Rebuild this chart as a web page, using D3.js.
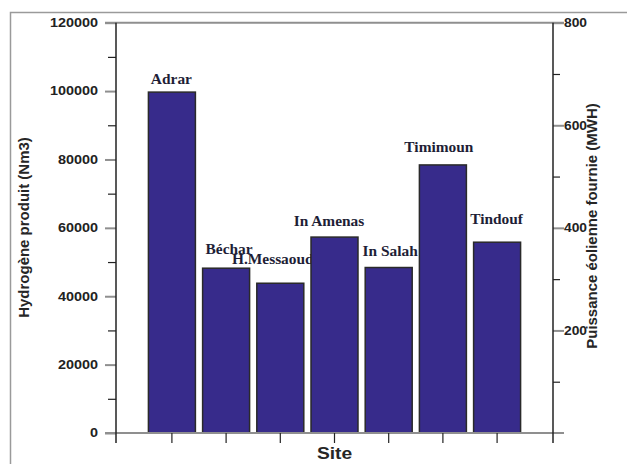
<!DOCTYPE html>
<html>
<head>
<meta charset="utf-8">
<script src="https://cdn.jsdelivr.net/npm/d3@7"></script>
<style>
  html, body { margin: 0; padding: 0; background: #fff; }
  svg { display: block; }
</style>
</head>
<body>
<script>
// Hydrogen produced per site (Nm3)
const categories = ["Adrar", "Béchar", "H.Messaoud", "In Amenas", "In Salah", "Timimoun", "Tindouf"];
const hydrogen = [99700, 48200, 43800, 57300, 48400, 78400, 55800];

// Axis ticks
const leftMajor = [0, 20000, 40000, 60000, 80000, 100000, 120000];
const leftMinor = [10000, 30000, 50000, 70000, 90000, 110000];
const rightMajor = [200, 400, 600, 800];
const rightMinor = [100, 300, 500, 700];

// Placement of each site name relative to the top centre of its bar
const labelOffsets = [[-0.5, -8.5], [3, -14], [-7.5, -19], [-5.5, -11], [1.5, -12], [-4, -13], [-0.5, -18]];

const W = 627, H = 464;
const plot = { left: 116, right: 553, top: 22.7, bottom: 433 };
const gray = "#8f8f8f", dark = "#222";

const svg = d3.select("body").append("svg").attr("width", W).attr("height", H);

// outer frame
svg.append("path")
  .attr("d", `M10.5,${H} V12.5 H${W}`)
  .attr("fill", "none").attr("stroke", "#9a9a9a").attr("stroke-width", 1.5);

const x = d3.scaleBand().domain(categories)
  .range([plot.left, plot.right]).paddingInner(0.133).paddingOuter(0.598);
const y = d3.scaleLinear().domain([0, 120000]).range([plot.bottom, plot.top]);
const y2 = d3.scaleLinear().domain([0, 800]).range([plot.bottom, plot.top]);

// stretch text horizontally along its own direction
function stretch(sel, f) {
  sel.each(function () {
    const L = this.getComputedTextLength();
    d3.select(this).attr("textLength", L * f).attr("lengthAdjust", "spacingAndGlyphs");
  });
}

// site names (drawn beneath the bars)
const labels = svg.append("g").selectAll("text").data(categories).join("text")
  .attr("x", (d, i) => x(d) + x.bandwidth() / 2 + labelOffsets[i][0])
  .attr("y", (d, i) => y(hydrogen[i]) + labelOffsets[i][1])
  .attr("text-anchor", "middle")
  .attr("font-family", "'Liberation Serif', 'Times New Roman', serif")
  .attr("font-weight", "bold").attr("font-size", 14)
  .attr("fill", "#1e1e36")
  .text(d => d);
stretch(labels, 1.1);

// bars
svg.append("g").selectAll("rect").data(categories).join("rect")
  .attr("x", d => x(d))
  .attr("y", (d, i) => y(hydrogen[i]))
  .attr("width", x.bandwidth())
  .attr("height", (d, i) => y(0) - y(hydrogen[i]))
  .attr("fill", "#372b8b")
  .attr("stroke", "#2a2a2a").attr("stroke-width", 1.5);

// top and bottom frame lines of the plot
svg.append("line").attr("x1", 105).attr("x2", 564).attr("y1", plot.top).attr("y2", plot.top)
  .attr("stroke", gray).attr("stroke-width", 2);
svg.append("line").attr("x1", 105).attr("x2", 564).attr("y1", plot.bottom).attr("y2", plot.bottom)
  .attr("stroke", gray).attr("stroke-width", 2.2);

const tickFont = g => g.selectAll("text")
  .attr("font-family", "'Liberation Sans', Arial, sans-serif")
  .attr("font-weight", "bold").attr("font-size", 12).attr("fill", dark);

// left axis
const gl = svg.append("g").attr("transform", `translate(${plot.left},0)`)
  .call(d3.axisLeft(y).tickValues(leftMajor).tickSize(11).tickPadding(7).tickFormat(d3.format("d")));
gl.select(".domain").remove();
gl.selectAll(".tick line").attr("stroke", gray).attr("stroke-width", 2);
gl.call(tickFont);
stretch(gl.selectAll("text"), 1.2);

const glm = svg.append("g").attr("transform", `translate(${plot.left},0)`)
  .call(d3.axisLeft(y).tickValues(leftMinor).tickSize(8).tickFormat(""));
glm.select(".domain").remove();
glm.selectAll(".tick line").attr("stroke", dark).attr("stroke-width", 1.2);

svg.append("line").attr("x1", plot.left).attr("x2", plot.left)
  .attr("y1", plot.top).attr("y2", plot.bottom + 10)
  .attr("stroke", dark).attr("stroke-width", 1.5);

// right axis
const gr = svg.append("g").attr("transform", `translate(${plot.right},0)`)
  .call(d3.axisRight(y2).tickValues(rightMajor).tickSize(11).tickPadding(0).tickFormat(d3.format("d")));
gr.select(".domain").remove();
gr.selectAll(".tick line").attr("stroke", gray).attr("stroke-width", 2);
gr.call(tickFont);
stretch(gr.selectAll("text"), 1.15);

const grm = svg.append("g").attr("transform", `translate(${plot.right},0)`)
  .call(d3.axisRight(y2).tickValues(rightMinor).tickSize(7).tickFormat(""));
grm.select(".domain").remove();
grm.selectAll(".tick line").attr("stroke", dark).attr("stroke-width", 1.2);

svg.append("line").attr("x1", plot.right).attr("x2", plot.right)
  .attr("y1", plot.top).attr("y2", plot.bottom + 10)
  .attr("stroke", dark).attr("stroke-width", 1.5);

// bottom axis ticks at bar centres
const gb = svg.append("g").attr("transform", `translate(0,${plot.bottom})`)
  .call(d3.axisBottom(x).tickSize(10).tickFormat(""));
gb.select(".domain").remove();
gb.selectAll(".tick line").attr("stroke", dark).attr("stroke-width", 1.2);

// axis titles
const titleFont = s => s
  .attr("font-family", "'Liberation Sans', Arial, sans-serif")
  .attr("font-weight", "bold").attr("fill", "#262626");

const tl = svg.append("text")
  .attr("transform", "translate(29,227.5) rotate(-90)")
  .attr("text-anchor", "middle").attr("font-size", 14)
  .call(titleFont).text("Hydrogène produit (Nm3)");
stretch(tl, 1.07);

const tr = svg.append("text")
  .attr("transform", "translate(597,226) rotate(-90)")
  .attr("text-anchor", "middle").attr("font-size", 14)
  .call(titleFont).text("Puissance éolienne fournie (MWH)");
stretch(tr, 1.07);

const tb = svg.append("text")
  .attr("x", (plot.left + plot.right) / 2).attr("y", 459)
  .attr("text-anchor", "middle").attr("font-size", 16)
  .call(titleFont).text("Site");
stretch(tb, 1.2);
</script>
</body>
</html>
